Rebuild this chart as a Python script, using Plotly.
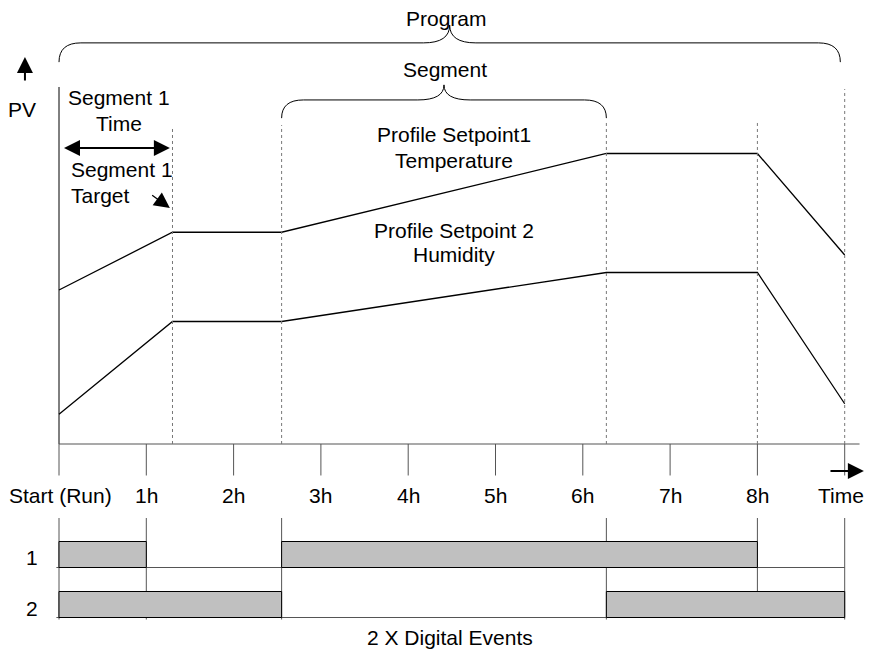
import plotly.graph_objects as go

# Colours
BLACK = "#000000"
GRAY_LINE = "#555555"
GRAY_DOT = "#777777"
GRAY_FILL = "#C0C0C0"
FONT = "Liberation Sans, Arial, sans-serif"

# Profile data (time in hours, PV in arbitrary units)
seg_times = [0, 1.3, 2.55, 6.27, 8.0, 9.0]
sp1_temperature = [44, 60.5, 60.5, 83, 83, 54]
sp2_humidity = [8.5, 35, 35, 49, 49, 11.5]

# Time axis ticks
tick_hours = [0, 1, 2, 3, 4, 5, 6, 7, 8, 9]
tick_labels = ["Start (Run)", "1h", "2h", "3h", "4h", "5h", "6h", "7h", "8h", "Time"]

# Digital events: (row, start, end)
event_rows = [1, 1, 2, 2]
event_start = [0, 2.55, 0, 6.27]
event_end = [1.0, 8.0, 2.55, 9.0]

fig = go.Figure()

# profile setpoints
for sp in (sp1_temperature, sp2_humidity):
    fig.add_trace(go.Scatter(
        x=seg_times, y=sp, mode="lines",
        line=dict(color=BLACK, width=1.3),
        hoverinfo="skip", showlegend=False
    ))

# digital event bars
fig.add_trace(go.Bar(
    y=event_rows,
    base=event_start,
    x=[e - s for s, e in zip(event_start, event_end)],
    orientation="h",
    width=0.52,
    marker=dict(color=GRAY_FILL, line=dict(color=BLACK, width=1)),
    yaxis="y2",
    hoverinfo="skip", showlegend=False
))

shapes = []

# PV axis and time baseline
shapes.append(dict(type="line", xref="x", yref="y", x0=0, x1=0, y0=0, y1=102,
                   line=dict(color=BLACK, width=1)))
shapes.append(dict(type="line", xref="x", yref="y", x0=0, x1=9.17, y0=0, y1=0,
                   line=dict(color=GRAY_LINE, width=1.2)))

# tick marks
for h in tick_hours:
    shapes.append(dict(type="line", xref="x", yref="y", x0=h, x1=h, y0=0, y1=-9,
                       line=dict(color=GRAY_LINE, width=1)))

# dotted segment boundaries
dot_tops = [None, 90.6, 91.1, 92, 92, 101.4]
for t, top in zip(seg_times, dot_tops):
    if top is None:
        continue
    shapes.append(dict(type="line", xref="x", yref="y", x0=t, x1=t, y0=0, y1=top,
                       line=dict(color=GRAY_DOT, width=1, dash="dot")))


def brace(x0, x1, yb, yt, tip, rx=0.25, cw=0.3):
    xm = (x0 + x1) / 2
    return (f"M {x0},{yb} Q {x0},{yt} {x0 + rx},{yt} L {xm - cw},{yt} "
            f"Q {xm},{yt} {xm},{tip} Q {xm},{yt} {xm + cw},{yt} "
            f"L {x1 - rx},{yt} Q {x1},{yt} {x1},{yb}")


shapes.append(dict(type="path", xref="x", yref="y",
                   path=brace(0, 8.95, 109.1, 114.6, 119.7),
                   line=dict(color=BLACK, width=1)))
shapes.append(dict(type="path", xref="x", yref="y",
                   path=brace(seg_times[2], seg_times[3], 93.1, 98.3, 102.6),
                   line=dict(color=BLACK, width=1)))

# digital events frame (drawn beneath the bars)
for t in [0, 1.0, 2.55, 6.27, 8.0, 9.0]:
    bottom = 1.74 if t == 8.0 else 2.3
    shapes.append(dict(type="line", xref="x", yref="y2", x0=t, x1=t, y0=0.27, y1=bottom,
                       layer="below", line=dict(color=GRAY_LINE, width=1)))
for yy in (1.26, 2.26):
    shapes.append(dict(type="line", xref="x", yref="y2", x0=-0.03, x1=9.0, y0=yy, y1=yy,
                       layer="below", line=dict(color=GRAY_LINE, width=1)))

txt = dict(family=FONT, size=21, color=BLACK)
annotations = []


def label(x, y, text, xanchor="center", yref="y"):
    annotations.append(dict(x=x, y=y, xref="x", yref=yref, text=text, showarrow=False,
                            xanchor=xanchor, yanchor="middle", font=txt))


label(4.44, 121.6, "Program")
label(4.42, 106.9, "Segment")
label(-0.42, 95.7, "PV")
label(0.69, 98.9, "Segment 1")
label(0.69, 91.7, "Time")
label(0.12, 78.3, "Segment 1", xanchor="left")
label(0.12, 71.1, "Target", xanchor="left")
label(4.52, 88.3, "Profile Setpoint1")
label(4.52, 81.1, "Temperature")
label(4.52, 61.1, "Profile Setpoint 2")
label(4.52, 54.0, "Humidity")

for h, lab in zip(tick_hours, tick_labels):
    if h == 0:
        label(0.02, -14.6, lab)
    elif h == 9:
        label(8.96, -14.6, lab)
    else:
        label(h, -14.6, lab)

label(-0.31, 1.05, "1", yref="y2")
label(-0.31, 2.07, "2", yref="y2")
label(4.48, 2.65, "2 X Digital Events", yref="y2")


def arrow(x_tail, y_tail, x_tip, y_tip, size=1.0, width=2, side="end"):
    annotations.append(dict(
        x=x_tip, y=y_tip, ax=x_tail, ay=y_tail,
        xref="x", yref="y", axref="x", ayref="y",
        text="", showarrow=True, arrowhead=2, arrowsize=size,
        arrowwidth=width, arrowcolor=BLACK, arrowside=side
    ))


arrow(-0.39, 103.4, -0.39, 110.6, size=1.6)                   # PV arrow
arrow(0.04, 84.6, 1.27, 84.6, size=1.6, side="end+start")     # segment 1 time
arrow(1.05, 71.4, 1.27, 67.4, size=2.4, width=1.3)            # segment 1 target
arrow(8.82, -7.7, 9.22, -7.7, size=1.6)                       # time arrow

# page body has an 8px margin, so the figure is 16px smaller than the window
fig.update_layout(
    width=865, height=647,
    margin=dict(l=0, r=0, t=0, b=0),
    paper_bgcolor="white", plot_bgcolor="white",
    barmode="overlay",
    xaxis=dict(range=[-0.5842, 9.3242], visible=False, fixedrange=True),
    yaxis=dict(range=[-60.29, 124.57], domain=[0, 1], visible=False, fixedrange=True),
    yaxis2=dict(range=[3.01, -0.225], domain=[0, 0.25], anchor="x",
                visible=False, fixedrange=True),
    shapes=shapes,
    annotations=annotations,
    showlegend=False
)

fig.write_html("out.html")
